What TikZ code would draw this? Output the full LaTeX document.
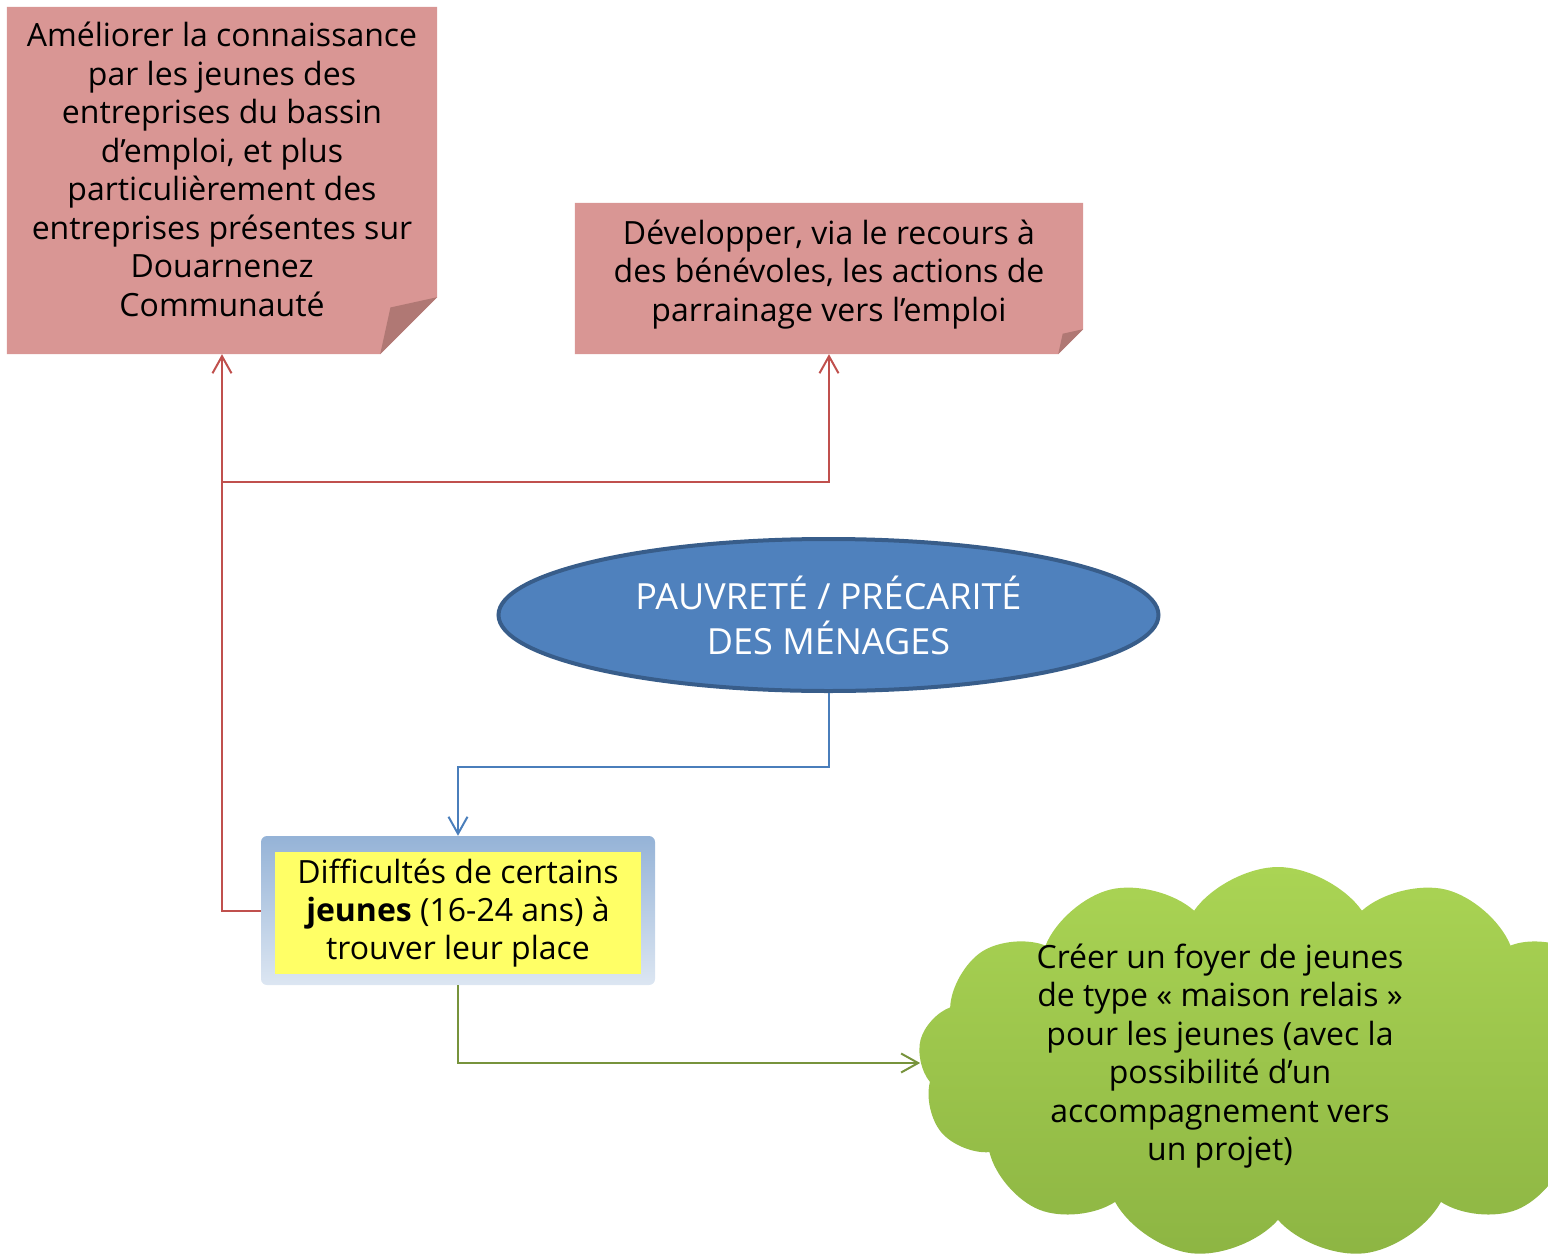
\documentclass[tikz,border=0pt]{standalone}
\usepackage{fontspec}
\setmainfont{Open Sans}
\usetikzlibrary{arrows.meta,shapes.geometric,shapes.symbols}
\pgfdeclarelayer{background}
\pgfsetlayers{background,main}

\definecolor{notefill}{HTML}{D99694}
\definecolor{notefold}{HTML}{B07874}
\definecolor{redline}{HTML}{C0504D}
\definecolor{blueline}{HTML}{4A7EBB}
\definecolor{greenline}{HTML}{77933C}
\definecolor{ellfill}{HTML}{4F81BD}
\definecolor{elldraw}{HTML}{385D8A}
\definecolor{frametop}{HTML}{95B3D7}
\definecolor{framebot}{HTML}{DCE6F2}
\definecolor{boxyellow}{HTML}{FFFF66}
\definecolor{cloudtop}{HTML}{AAD454}
\definecolor{cloudbot}{HTML}{8DB543}

% note with a folded bottom right corner
\newcommand{\foldnote}[2]{%
  \fill[notefill] (#1.north west) -- (#1.north east) -- ([yshift=#2]#1.south east)
    -- ([xshift=-#2]#1.south east) -- (#1.south west) -- cycle;
  \fill[notefold] ([yshift=#2]#1.south east) -- ([xshift=-#2]#1.south east)
    -- ([xshift=-0.82*#2,yshift=0.82*#2]#1.south east) -- cycle;
}

\begin{document}
\begin{tikzpicture}[x=1pt, y=-1pt,
    note/.style={rectangle, inner sep=0pt, align=center, font=\fontsize{32}{38.5}\selectfont},
    link/.style={line width=2pt, -{Straight Barb[length=17pt,width=19pt]}}
  ]
  \useasboundingbox (0,0) rectangle (1548,1255);

  % objectives
  \node[note, minimum width=430pt, minimum height=347pt] (note1) at (222,180.5)
    {Améliorer la connaissance\\ par les jeunes des\\ entreprises du bassin\\
     d’emploi, et plus\\ particulièrement des\\ entreprises présentes sur\\
     Douarnenez\\ Communauté\\[-16pt]\mbox{}};
  \node[note, minimum width=508pt, minimum height=151pt] (note2) at (829,278.5)
    {Développer, via le recours à\\ des bénévoles, les actions de\\ parrainage vers l’emploi\\[-22pt]\mbox{}};
  \begin{pgfonlayer}{background}
    \foldnote{note1}{57pt}
    \foldnote{note2}{25pt}
  \end{pgfonlayer}

  % cause
  \node[ellipse, draw=elldraw, line width=4pt, fill=ellfill, minimum width=660pt,
    minimum height=152pt, inner sep=0pt, align=center, text=white,
    font=\fontsize{36}{45}\selectfont] (menages) at (828.5,615)
    {PAUVRETÉ / PRÉCARITÉ\\ DES MÉNAGES};

  % problem
  \node[rectangle, rounded corners=6pt, top color=frametop, bottom color=framebot,
    minimum width=394pt, minimum height=149pt] (frame) at (458,910.5) {};
  \node[rectangle, fill=boxyellow, minimum width=366pt, minimum height=122pt,
    inner sep=0pt, align=center, font=\fontsize{32}{38}\selectfont] (jeunes) at (458,913)
    {Difficultés de certains\\ \textbf{jeunes} (16-24 ans) à\\ trouver leur place};

  % action
  \node[cloud, cloud puffs=13, cloud puff arc=110, cloud ignores aspect,
    top color=cloudtop, bottom color=cloudbot, minimum width=720pt,
    minimum height=392pt] (foyer) at (1278,1063) {};
  \node[align=center, font=\fontsize{32}{38.4}\selectfont] (foyertxt) at (1220,1056)
    {Créer un foyer de jeunes\\ de type « maison relais »\\ pour les jeunes (avec la\\
     possibilité d’un\\ accompagnement vers\\ un projet)};

  % connectors
  \coordinate (split) at (222,482);
  \draw[link, redline] (frame.west) -| (note1.south);
  \draw[link, redline] (split) -| (note2.south);
  \draw[link, blueline] (menages.south) -- ++(0,74) -| (frame.north);
  \draw[link, greenline] (frame.south) |- (foyer.west);
\end{tikzpicture}
\end{document}
